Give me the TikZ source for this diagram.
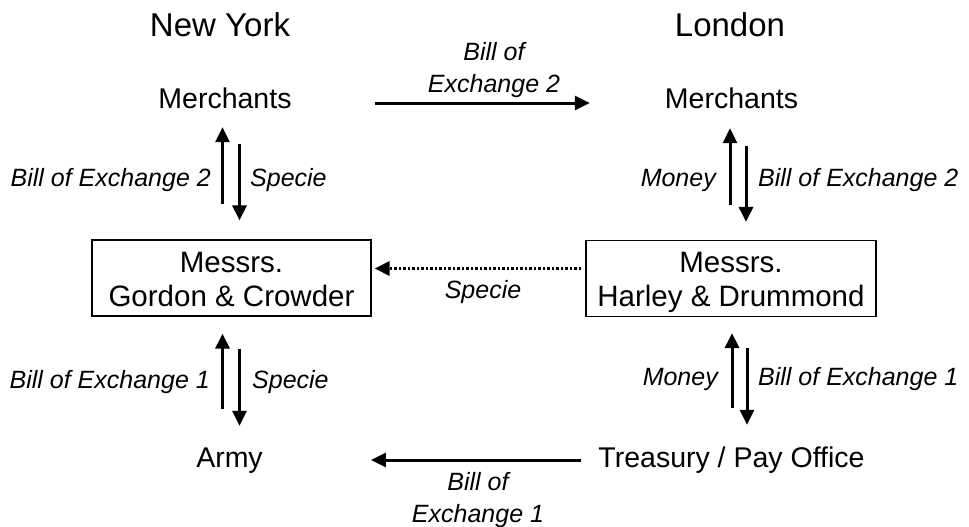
\documentclass[tikz,border=0pt]{standalone}
\usepackage{fontspec}
\setmainfont{Liberation Sans}
\usetikzlibrary{arrows.meta}

\begin{document}
\begin{tikzpicture}[x=1pt, y=-1pt,
	city/.style={font=\fontsize{33}{36}\selectfont, anchor=base, inner sep=0pt},
	party/.style={font=\fontsize{28.5}{34}\selectfont, anchor=base, inner sep=0pt, text height=20pt, text depth=6pt},
	bank/.style={draw, line width=1.2pt, font=\fontsize{29.5}{34}\selectfont, align=center, minimum height=76pt, inner sep=0pt, text height=62pt, text depth=6pt},
	flow/.style={font=\fontsize{25}{32}\selectfont\itshape, inner sep=0pt},
	pay/.style={line width=3pt, -{Triangle[length=15pt,width=14pt]}},
	rumour/.style={pay, dash pattern=on 2.5pt off 2pt}]
	\useasboundingbox (0,0) rectangle (969,527);

	% the two cities
	\node[city] (ny) at (220,37) {New York};
	\node[city] (ldn) at (730,37) {London};

	\node[party] (nym) at (225,108) {Merchants};
	\node[party] (lm) at (731.5,108) {Merchants};
	\node[bank, minimum width=279pt] (gc) at (231.5,278) {Messrs.\\Gordon \& Crowder};
	\node[bank, minimum width=290pt] (hd) at (731,278.5) {Messrs.\\Harley \& Drummond};
	\node[party] (army) at (229.5,467) {Army};
	\node[party] (tpo) at (731.5,467) {Treasury / Pay Office};

	% across the ocean
	\draw[pay, shorten <=83pt, shorten >=75pt] ([yshift=-2pt]nym.east) -- ([yshift=-2pt]nym.east -| lm.west);
	\node[flow, align=center] (bx2) at (494,70) {Bill of\\Exchange 2};
	\draw[rumour, shorten <=4pt, shorten >=3pt] ([yshift=10pt]hd.west) -- ([yshift=10pt]hd.west -| gc.east);
	\node[flow, anchor=base] (spc) at (483,298) {Specie};
	\draw[pay, shorten <=17pt, shorten >=108pt] (tpo.west) -- (tpo.west -| army.east);
	\node[flow, align=center] (bx1) at (478,500) {Bill of\\Exchange 1};

	% New York
	\draw[pay, shorten <=35pt, shorten >=13pt] ([xshift=-9pt]gc.north) -- ([xshift=-9pt]gc.north |- nym.south);
	\draw[pay, shorten <=30pt, shorten >=19pt] ([xshift=8pt]gc.north |- nym.south) -- ([xshift=8pt]gc.north);
	\node[flow, anchor=base east] (nyb2) at (211,186) {Bill of Exchange 2};
	\node[flow, anchor=base west] (nysp2) at (250,186) {Specie};
	\draw[pay, shorten <=38pt, shorten >=17pt] ([xshift=-9pt]gc.south |- army.north) -- ([xshift=-9pt]gc.south);
	\draw[pay, shorten <=32pt, shorten >=21pt] ([xshift=8pt]gc.south) -- ([xshift=8pt]gc.south |- army.north);
	\node[flow, anchor=base east] (nyb1) at (210,388) {Bill of Exchange 1};
	\node[flow, anchor=base west] (nysp1) at (252,388) {Specie};

	% London
	\draw[pay, shorten <=35pt, shorten >=14pt] ([xshift=-1pt]hd.north) -- ([xshift=-1pt]hd.north |- lm.south);
	\draw[pay, shorten <=32pt, shorten >=18pt] ([xshift=15pt]hd.north |- lm.south) -- ([xshift=15pt]hd.north);
	\node[flow, anchor=base east] (lmo2) at (716,186) {Money};
	\node[flow, anchor=base west] (lb2) at (758,186) {Bill of Exchange 2};
	\draw[pay, shorten <=39pt, shorten >=16pt] ([xshift=1pt]hd.south |- tpo.north) -- ([xshift=1pt]hd.south);
	\draw[pay, shorten <=31pt, shorten >=22pt] ([xshift=16pt]hd.south) -- ([xshift=16pt]hd.south |- tpo.north);
	\node[flow, anchor=base east] (lmo1) at (718,385) {Money};
	\node[flow, anchor=base west] (lb1) at (758,385) {Bill of Exchange 1};
\end{tikzpicture}
\end{document}
